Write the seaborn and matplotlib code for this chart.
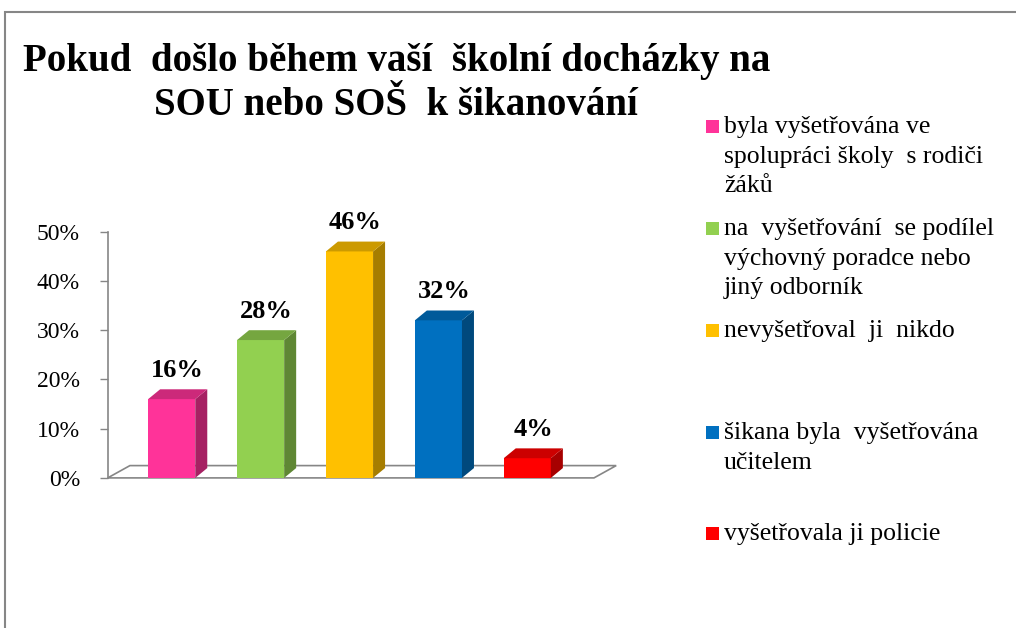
import matplotlib
matplotlib.use('Agg')
import matplotlib.pyplot as plt
import seaborn as sns
from matplotlib.patches import Polygon, Rectangle
from matplotlib.colors import to_rgb

# chart data
categories = [
    'byla vyšetřována ve\nspolupráci školy  s rodiči\nžáků',
    'na  vyšetřování  se podílel\nvýchovný poradce nebo\njiný odborník',
    'nevyšetřoval  ji  nikdo',
    'šikana byla  vyšetřována\nučitelem',
    'vyšetřovala ji policie',
]
values = [16, 28, 46, 32, 4]
value_labels = ['16%', '28%', '46%', '32%', '4%']
colors = ['#FF3399', '#92D050', '#FFC000', '#0070C0', '#FF0000']
y_ticks = [0, 10, 20, 30, 40, 50]
y_tick_labels = ['0%', '10%', '20%', '30%', '40%', '50%']
title = 'Pokud  došlo během vaší  školní docházky na\nSOU nebo SOŠ  k šikanování'

sns.set_theme(style='white')
plt.rcParams['font.family'] = ['Liberation Serif', 'DejaVu Serif']

fig = plt.figure(figsize=(10.16, 6.28), dpi=100)
ax = fig.add_axes([0.106, 0.239, 0.483, 0.392])

ids = [str(i) for i in range(len(values))]
sns.barplot(x=ids, y=values, hue=ids, palette=colors, legend=False,
            width=0.53, saturation=1, linewidth=0, ax=ax, zorder=3)

ax.set_xlim(-0.72, 4.8)
ax.set_ylim(0, 50)
ax.set_yticks(y_ticks)
ax.set_yticklabels(y_tick_labels, fontsize=17, color='black')
ax.set_xticks([])
ax.set_xlabel('')
ax.set_ylabel('')
ax.tick_params(axis='y', left=True, length=6, width=1, color='#868686', pad=14)
for s in ['top', 'right', 'bottom']:
    ax.spines[s].set_visible(False)
ax.spines['left'].set_color('#868686')
ax.spines['left'].set_linewidth(1.2)

# floor outline
dx, dy = 0.25, 2.5
floor = Polygon([(-0.72, 0), (4.75, 0), (4.75 + dx, dy), (-0.72 + dx, dy)],
                closed=True, fill=False, edgecolor='#868686', lw=1.2,
                clip_on=False, zorder=1)
ax.add_patch(floor)

# 3d look: side and top faces from each bar patch
sx, sy = 0.135, 2.0
for p, c, lab in zip(ax.patches[:len(values)], colors, value_labels):
    x0, y0 = p.get_x(), p.get_y()
    w, h = p.get_width(), p.get_height()
    r, g, b = to_rgb(c)
    side = (r * 0.65, g * 0.65, b * 0.65)
    top = (r * 0.8, g * 0.8, b * 0.8)
    ax.add_patch(Polygon([(x0 + w, y0), (x0 + w + sx, y0 + sy),
                          (x0 + w + sx, h + sy), (x0 + w, h)],
                         closed=True, facecolor=side, edgecolor='none',
                         clip_on=False, zorder=3))
    ax.add_patch(Polygon([(x0, h), (x0 + w, h), (x0 + w + sx, h + sy),
                          (x0 + sx, h + sy)],
                         closed=True, facecolor=top, edgecolor='none',
                         clip_on=False, zorder=3))
    ax.text(x0 + w / 2 + sx / 2, h + sy + 1.5, lab,
            ha='center', va='bottom', fontsize=19, fontweight='bold',
            color='black', zorder=4)

# title
fig.text(0.39, 1 - 43 / 628, title, ha='center', va='top', fontsize=28,
         fontweight='bold', color='black', multialignment='center',
         linespacing=1.25)

# legend, evenly spaced entries
leg_y = [126, 228, 330, 432, 533]
for lab, c, yp in zip(categories, colors, leg_y):
    fy = 1 - yp / 628
    fig.add_artist(Rectangle((706 / 1016, fy - 7 / 628), 13 / 1016, 13 / 628,
                             transform=fig.transFigure, facecolor=c,
                             edgecolor='none'))
    fig.text(724 / 1016, fy + 10 / 628, lab, ha='left', va='top',
             fontsize=18.5, color='black', linespacing=1.45)

# chart frame
fig.add_artist(Rectangle((5 / 1016, -0.2), 1.2, 1.2 - 12 / 628,
                         transform=fig.transFigure, fill=False,
                         edgecolor='#868686', lw=1.5))

fig.savefig('out.png', dpi=100)
